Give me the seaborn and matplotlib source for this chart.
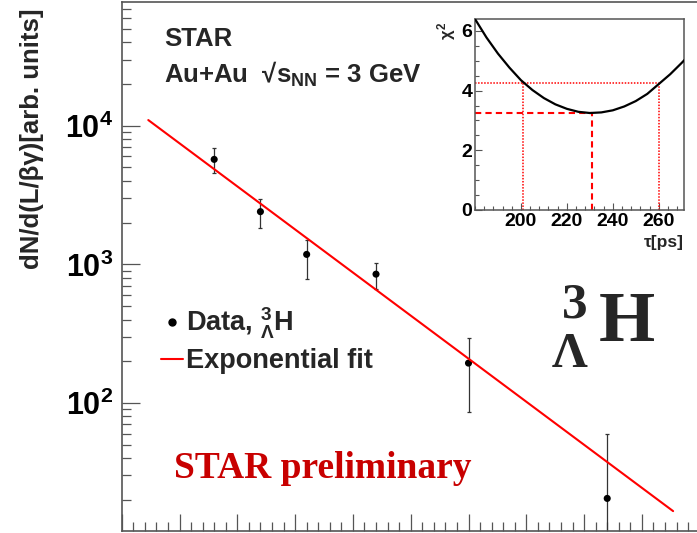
import matplotlib
matplotlib.use("Agg")
import numpy as np
import pandas as pd
import seaborn as sns
import matplotlib.pyplot as plt
from matplotlib.lines import Line2D
from matplotlib.ticker import MultipleLocator, FixedLocator, LogLocator, FuncFormatter, NullFormatter

# ---- measured yield vs decay length ----
decay_length_cm = [8, 12, 16, 22, 30, 42]
yield_vals = [5720, 2400, 1180, 850, 194, 20.5]
err_up = [1220, 560, 320, 170, 100, 39]
err_down = [1180, 580, 390, 187, 108, 39]

# exponential fit (straight line on the log scale), end points
fit_x = [2.3, 47.7]
fit_y = [10990, 16.6]

# ---- chi2 scan vs lifetime ----
tau_ps = [180, 185, 190, 195, 200, 205, 210, 215, 220, 225,
          230, 235, 240, 245, 250, 255, 260, 265, 270, 275]
chi2_vals = [6.40, 5.78, 5.24, 4.77, 4.35, 4.02, 3.75, 3.54, 3.39, 3.29,
             3.25, 3.27, 3.34, 3.47, 3.65, 3.89, 4.22, 4.55, 4.93, 5.33]
tau_best = 231
chi2_min = 3.25
tau_low = 201
tau_high = 260

sns.set_theme(style="ticks")
plt.rcParams.update({
    "font.family": ["Liberation Sans", "DejaVu Sans"],
    "font.weight": "bold",
    "mathtext.fontset": "custom",
    "mathtext.rm": "Liberation Sans:bold",
    "mathtext.bf": "Liberation Sans:bold",
    "mathtext.it": "Liberation Sans:bold",
    "mathtext.sf": "Liberation Sans:bold",
    "axes.edgecolor": "#555555",
    "xtick.color": "#555555",
    "ytick.color": "#555555",
    "xtick.labelcolor": "black",
    "ytick.labelcolor": "black",
})

W, H = 697, 533
fig = plt.figure(figsize=(W / 100, H / 100), dpi=100)
fig.patch.set_facecolor("white")


def fx(px):
    return px / W


def fy(py):
    return 1 - py / H


# ---------------- main panel ----------------
ax = fig.add_axes([fx(121.7), fy(531), 578 / W, (531 - 2) / H])
ax.set_facecolor("white")
ax.set_yscale("log")
ax.set_xlim(0, 50)
ax.set_ylim(11.93, 78090)

df = pd.DataFrame({"L": decay_length_cm, "N": yield_vals})
ax.errorbar(decay_length_cm, yield_vals, yerr=[err_down, err_up], fmt="none",
            ecolor="#333333", elinewidth=0.9, capsize=1.6, capthick=0.9, zorder=2)
sns.scatterplot(data=df, x="L", y="N", ax=ax, color="black", s=26,
                edgecolor="none", zorder=3, legend=False)
sns.lineplot(x=fit_x, y=fit_y, ax=ax, color="red", lw=1.5, zorder=4,
             estimator=None, sort=False)

ax.set_xlabel("")
ax.set_ylabel("")
for side in ("left", "bottom", "top"):
    ax.spines[side].set_linewidth(1.2)
ax.spines["right"].set_visible(False)

ax.xaxis.set_major_locator(MultipleLocator(5))
ax.xaxis.set_minor_locator(MultipleLocator(1))
ax.xaxis.set_major_formatter(NullFormatter())
ax.yaxis.set_major_locator(LogLocator(base=10, numticks=10))
ax.yaxis.set_minor_locator(LogLocator(base=10, subs=np.arange(2, 10), numticks=20))
ax.yaxis.set_minor_formatter(NullFormatter())
ax.yaxis.set_major_formatter(FuncFormatter(
    lambda v, p: r"$10^{%d}$" % round(np.log10(v))))
ax.tick_params(axis="both", which="both", direction="in", top=False, right=False)
ax.tick_params(axis="x", which="major", length=12, width=0.9)
ax.tick_params(axis="x", which="minor", length=6.5, width=0.9)
ax.tick_params(axis="y", which="major", length=13, width=0.9, pad=6, labelsize=22)
ax.tick_params(axis="y", which="minor", length=6.5, width=0.9)

fig.text(fx(31.5), fy(8), "dN/d(L/βγ)[arb. units]", rotation=90,
         ha="center", va="top", fontsize=18.5, fontweight="bold")

fig.text(fx(164), fy(46.5), "STAR", ha="left", va="baseline",
         fontsize=18.5, fontweight="bold")
fig.text(fx(164), fy(83), r"Au+Au  √$s_{NN}$ = 3 GeV", ha="left",
         va="baseline", fontsize=18.5, fontweight="bold")

handles = [Line2D([], [], marker="o", color="black", ls="none", markersize=5),
           Line2D([], [], color="red", lw=1.5)]
labels = [r"Data, ${}^{3}_{\Lambda}$H", "Exponential fit"]
leg = ax.legend(handles, labels, loc="upper left", frameon=False,
                bbox_to_anchor=(fx(161), fy(306)), bbox_transform=fig.transFigure,
                fontsize=19.5, handlelength=0.8, handletextpad=0.12,
                labelspacing=0.25, borderpad=0, borderaxespad=0)
for t in leg.get_texts():
    t.set_fontweight("bold")

serif = ["Liberation Serif", "DejaVu Serif"]
fig.text(fx(599), fy(341), "H", family=serif, fontweight="bold",
         fontsize=52, ha="left", va="baseline")
fig.text(fx(562), fy(317), "3", family=serif, fontweight="bold",
         fontsize=37, ha="left", va="baseline")
fig.text(fx(570), fy(367), "Λ", family=serif, fontweight="bold",
         fontsize=36, ha="center", va="baseline")

fig.text(fx(174), fy(478), "STAR preliminary", family=serif, fontweight="bold",
         fontsize=27, color="#C80000", ha="left", va="baseline")

# ---------------- inset: chi2 scan ----------------
axin = fig.add_axes([fx(475), fy(210), (684 - 475) / W, (210 - 19) / H])
axin.set_facecolor("white")
sns.lineplot(x=tau_ps, y=chi2_vals, ax=axin, color="black", lw=1.6,
             estimator=None, sort=False, zorder=3)
axin.set_xlim(180, 271)
axin.set_ylim(0, 6.4)
x0 = axin.get_xlim()[0]
axin.plot([x0, tau_best], [chi2_min, chi2_min], color="red", ls=(0, (3, 2)), lw=1.5)
axin.plot([tau_best, tau_best], [0, chi2_min], color="red", ls=(0, (3, 2)), lw=1.5)
axin.plot([x0, tau_high], [chi2_min + 1, chi2_min + 1], color="red", ls=(0, (1, 1)), lw=1.1)
axin.plot([tau_low, tau_low], [0, chi2_min + 1], color="red", ls=(0, (1, 1)), lw=1.1)
axin.plot([tau_high, tau_high], [0, chi2_min + 1], color="red", ls=(0, (1, 1)), lw=1.1)
axin.set_xlabel("")
axin.set_ylabel("")
for s in axin.spines.values():
    s.set_linewidth(1.1)
axin.xaxis.set_major_locator(FixedLocator([200, 220, 240, 260]))
axin.xaxis.set_minor_locator(MultipleLocator(4))
axin.yaxis.set_major_locator(MultipleLocator(2))
axin.yaxis.set_minor_locator(MultipleLocator(0.5))
axin.tick_params(axis="both", which="both", direction="in", top=False, right=False)
axin.tick_params(axis="both", which="major", length=5, width=0.8, labelsize=14, pad=2)
axin.tick_params(axis="both", which="minor", length=2.8, width=0.8)
for lab in axin.get_xticklabels() + axin.get_yticklabels():
    lab.set_fontweight("bold")

fig.text(fx(447), fy(22), r"$\chi^{2}$", rotation=90, ha="center", va="top",
         fontsize=12)
fig.text(fx(684), fy(243), "τ[ps]", ha="right", va="center", fontsize=12.5,
         fontweight="bold")

fig.savefig("out.png", dpi=100, facecolor="white")
